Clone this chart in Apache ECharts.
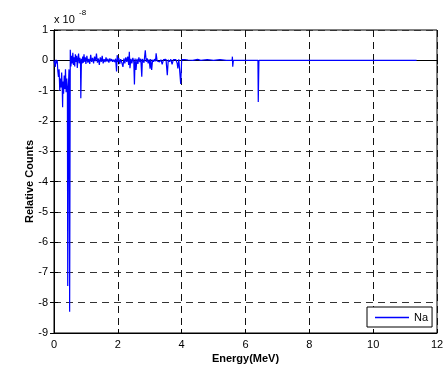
<!DOCTYPE html>
<html>
<head>
<meta charset="utf-8">
<script src="https://cdn.jsdelivr.net/npm/echarts@6/dist/echarts.min.js"></script>
<style>
html,body{margin:0;padding:0;background:#fff;}
#chart{width:447px;height:372px;}
</style>
</head>
<body>
<div id="chart"></div>
<script>
// Energy in MeV
var energy = [
  0.00,0.02,0.04,0.06,0.08,0.10,0.12,0.14,0.16,0.18,0.20,0.22,0.24,0.26,0.27,0.28,0.30,0.32,0.34,0.36,0.38,0.40,0.42,0.43,0.45,0.47,0.49,0.51,0.53,0.55,
  0.57,0.59,0.61,0.63,0.65,0.67,0.69,0.71,0.73,0.75,0.77,0.79,0.81,0.83,0.84,0.86,0.88,0.90,0.92,0.94,0.96,0.98,1.00,
  1.03,1.06,1.09,1.12,1.15,1.18,1.21,1.24,1.27,1.30,1.33,1.36,1.39,1.42,1.45,1.48,1.51,1.54,1.57,1.60,1.63,1.66,1.69,1.72,1.75,1.78,1.81,1.84,1.87,1.90,
  1.93,1.96,1.98,2.00,2.03,2.06,2.09,2.12,2.16,2.19,2.22,2.25,2.28,2.31,2.34,2.36,2.38,2.41,2.44,2.47,2.50,2.52,2.54,2.57,2.60,2.63,2.66,2.69,2.72,2.75,2.77,2.80,2.82,2.86,2.89,2.92,2.95,2.98,3.01,3.03,3.06,3.09,3.12,3.15,3.18,3.20,3.23,3.27,3.31,3.35,3.39,3.43,3.47,3.51,3.55,3.58,3.62,3.66,3.70,3.74,3.78,3.82,3.86,3.88,3.91,3.94,3.97,4.00,4.05,4.10,4.15,4.20,
  4.35,4.50,4.60,4.80,5.00,5.20,5.40,5.58,5.59,5.60,5.62,6.20,6.39,6.40,6.42,7.00,8.00,9.00,10.00,11.36
];
// Relative counts, units of 1e-8
var counts = [
  0.00,-0.05,-0.22,0.02,-0.10,0.00,-0.35,-0.55,-0.30,-1.00,-0.60,-0.90,-0.40,-1.00,-1.55,-0.70,-1.10,-0.50,-0.95,-0.30,-1.05,-0.60,-1.00,-7.45,-0.90,-0.30,-8.30,0.35,-0.20,0.15,
  -0.10,0.25,-0.15,0.10,-0.20,0.20,-0.05,0.15,-0.25,0.05,0.22,-0.10,0.08,-0.05,-1.25,0.05,-0.10,0.12,-0.08,0.20,-0.05,0.10,-0.12,
  0.15,-0.08,0.05,-0.12,0.18,-0.05,0.08,-0.10,0.12,-0.03,0.22,-0.08,0.06,-0.15,0.10,-0.05,0.15,-0.10,0.04,-0.06,0.10,-0.04,0.05,-0.08,0.06,-0.03,0.04,-0.05,0.02,-0.06,
  0.05,-0.37,0.17,-0.05,0.08,-0.12,0.04,-0.06,-0.22,0.06,-0.10,0.10,-0.05,0.12,-0.15,0.28,-0.26,0.05,-0.10,0.08,-0.05,-0.80,0.06,-0.32,0.05,-0.12,0.10,-0.06,0.05,-0.54,0.04,0.10,-0.08,0.33,-0.05,0.06,-0.10,0.03,-0.28,0.04,-0.32,0.02,-0.05,0.04,-0.03,0.23,-0.02,0.03,-0.05,0.02,-0.13,0.02,-0.04,0.03,-0.49,0.02,-0.05,0.03,-0.13,0.02,-0.04,0.02,-0.10,-0.27,0.03,-0.02,-0.78,0.02,-0.03,0.02,-0.02,0.01,
  0.00,0.03,0.00,0.02,0.00,0.02,0.00,0.00,0.12,-0.21,0.00,0.00,0.00,-1.38,0.00,0.00,0.00,0.00,0.00,0.00
];
var xTicks = [0,2,4,6,8,10,12];
var yTicks = [1,0,-1,-2,-3,-4,-5,-6,-7,-8,-9];
var seriesName = 'Na';

var pts = energy.map(function(e,i){return [e, counts[i]];});
var font = 'Liberation Sans, Arial, sans-serif';
var chart = echarts.init(document.getElementById('chart'), null, {renderer:'canvas'});
var dashedX = {show:true, lineStyle:{color:'#111', type:[7,5], width:1}};
var dashedY = {show:true, lineStyle:{color:'#333', type:[7,5], width:1}};
chart.setOption({
  animation:false,
  backgroundColor:'#fff',
  grid:{left:54, right:10, top:30, bottom:39, show:true, borderColor:'#000', borderWidth:1, backgroundColor:'transparent'},
  legend:{
    data:[{name:seriesName, icon:'rect'}],
    left:367, top:307, orient:'vertical',
    itemWidth:34, itemHeight:1.5, itemGap:4,
    padding:[5,4,4,8],
    borderColor:'#000', borderWidth:1, backgroundColor:'#fff',
    textStyle:{color:'#000', fontSize:11, fontFamily:font}
  },
  xAxis:[{
    type:'value', min:xTicks[0], max:xTicks[xTicks.length-1], interval:2,
    axisLine:{show:true, onZero:false, lineStyle:{color:'#000', width:1}},
    axisTick:{show:true, inside:true, length:4, lineStyle:{color:'#000'}},
    axisLabel:{color:'#000', fontSize:11, fontFamily:font, margin:6},
    splitLine:dashedX,
    name:'Energy(MeV)', nameLocation:'middle', nameGap:20, nameMoveOverlap:false,
    nameTextStyle:{color:'#000', fontSize:11, fontWeight:'bold', fontFamily:font}
  },{
    type:'value', position:'top', min:0, max:12, interval:2,
    axisLine:{show:true, lineStyle:{color:'#000'}},
    axisTick:{show:true, inside:true, length:4, lineStyle:{color:'#000'}},
    axisLabel:{show:false}, splitLine:{show:false}
  }],
  yAxis:[{
    type:'value', min:yTicks[yTicks.length-1], max:yTicks[0], interval:1,
    axisLine:{show:true, onZero:false, lineStyle:{color:'#000', width:1}},
    axisTick:{show:true, inside:true, length:4, lineStyle:{color:'#000'}},
    axisLabel:{color:'#000', fontSize:11, fontFamily:font, margin:6},
    splitLine:dashedY,
    name:'Relative Counts', nameLocation:'middle', nameGap:19, nameRotate:90, nameMoveOverlap:false,
    nameTextStyle:{color:'#000', fontSize:11, fontWeight:'bold', fontFamily:font}
  },{
    type:'value', position:'right', min:-9, max:1, interval:1,
    axisLine:{show:true, lineStyle:{color:'#000'}},
    axisTick:{show:true, inside:true, length:4, lineStyle:{color:'#000'}},
    axisLabel:{show:false}, splitLine:{show:false}
  }],
  graphic:[
    {type:'text', left:54, top:14, style:{text:'x 10', fill:'#000', font:'11px '+font}},
    {type:'text', left:79, top:9, style:{text:'-8', fill:'#000', font:'8px '+font}}
  ],
  series:[{
    name:seriesName, type:'line', data:pts, showSymbol:false, symbol:'none',
    sampling:null, clip:true,
    itemStyle:{color:'#0000ff'},
    lineStyle:{color:'#0000ff', width:1.2}
  }]
});
</script>
</body>
</html>
